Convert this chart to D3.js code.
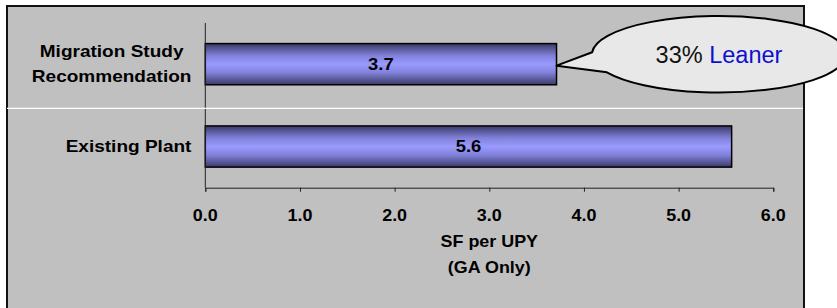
<!DOCTYPE html>
<html>
<head>
<meta charset="utf-8">
<script src="https://cdn.jsdelivr.net/npm/d3@7"></script>
<style>
  body { margin: 0; background: #ffffff; }
  text { font-family: 'Liberation Sans', Arial, sans-serif; }
</style>
</head>
<body>
<div id="chart"></div>
<script>
// Chart data
var categories = ['Migration Study\nRecommendation', 'Existing Plant']
var values = [3.71, 5.56]
var tickValues = [0, 1, 2, 3, 4, 5, 6]
var axisTitle = ['SF per UPY', '(GA Only)']
var calloutText = ['33%', 'Leaner']

// Layout
var width = 837
var height = 308
var plot = { left: 205.3, right: 773.3, top: 23, bottom: 187.7 }
var stretch = 1.12 // text in the original is drawn a little wide
var labelRight = 191.5

var svg = d3.select('#chart').append('svg')
  .attr('width', width)
  .attr('height', height)

// Gradient for the bars
var grad = svg.append('defs').append('linearGradient')
  .attr('id', 'barGrad')
  .attr('x1', 0).attr('y1', 0).attr('x2', 0).attr('y2', 1)
grad.selectAll('stop')
  .data([[0, '#3a3a68'], [0.3, '#8282dc'], [0.5, '#9a9aff'], [0.7, '#8282dc'], [1, '#3a3a68']])
  .enter().append('stop')
  .attr('offset', function (d) { return d[0] })
  .attr('stop-color', function (d) { return d[1] })

// Gray panel
svg.append('rect')
  .attr('x', 7)
  .attr('y', 6)
  .attr('width', 797)
  .attr('height', 330)
  .style('fill', '#c0c0c0')
  .style('stroke', '#111')
  .style('stroke-width', 2)

var x = d3.scaleLinear()
  .domain([0, 6])
  .range([plot.left, plot.right])

var y = d3.scaleBand()
  .domain(categories)
  .range([plot.top, plot.bottom])
  .paddingInner(0.5)
  .paddingOuter(0.25)

// Bars
svg.selectAll('.bar')
  .data(values)
  .enter().append('rect')
  .attr('class', 'bar')
  .attr('x', x(0))
  .attr('y', function (d, i) { return y(categories[i]) })
  .attr('width', function (d) { return x(d) - x(0) })
  .attr('height', y.bandwidth())
  .style('fill', 'url(#barGrad)')
  .style('stroke', '#000')
  .style('stroke-width', 1.5)

// Bar value labels
svg.selectAll('.barLabel')
  .data(values)
  .enter().append('text')
  .attr('class', 'barLabel')
  .attr('transform', function (d, i) {
    return 'translate(' + (x(0) + x(d)) / 2 + ',' + (y(categories[i]) + y.bandwidth() / 2 + 5.5) + ') scale(1.15,1)'
  })
  .attr('text-anchor', 'middle')
  .style('font-size', '16px')
  .style('font-weight', 'bold')
  .text(function (d) { return d3.format('.1f')(d) })

// X axis
var xAxis = svg.append('g')
  .attr('transform', 'translate(0,' + plot.bottom + ')')
  .call(d3.axisBottom(x).tickValues(tickValues).tickSize(4).tickFormat(''))
xAxis.select('.domain').attr('stroke', '#222')
xAxis.selectAll('.tick line').attr('stroke', '#222')

svg.selectAll('.tickLabel')
  .data(tickValues)
  .enter().append('text')
  .attr('class', 'tickLabel')
  .attr('transform', function (d) { return 'translate(' + x(d) + ',221) scale(' + stretch + ',1)' })
  .attr('text-anchor', 'middle')
  .style('font-size', '16px')
  .style('font-weight', 'bold')
  .text(function (d) { return d3.format('.1f')(d) })

// Axis title
svg.selectAll('.axisTitle')
  .data(axisTitle)
  .enter().append('text')
  .attr('class', 'axisTitle')
  .attr('transform', function (d, i) {
    return 'translate(' + (plot.left + plot.right) / 2 + ',' + (247 + i * 25.5) + ') scale(' + stretch + ',1)'
  })
  .attr('text-anchor', 'middle')
  .style('font-size', '16px')
  .style('font-weight', 'bold')
  .text(function (d) { return d })

// Y axis line
svg.append('line')
  .attr('x1', x(0)).attr('x2', x(0))
  .attr('y1', plot.top).attr('y2', plot.bottom)
  .style('stroke', '#222')

// Category labels: lines centred with each other, block right-aligned
categories.forEach(function (c) {
  var lines = c.split('\n')
  var mid = y(c) + y.bandwidth() / 2
  var g = svg.append('g')
  var texts = lines.map(function (line, j) {
    return g.append('text')
      .attr('text-anchor', 'middle')
      .style('font-size', '17px')
      .style('font-weight', 'bold')
      .text(line)
  })
  var maxW = d3.max(texts, function (t) { return t.node().getComputedTextLength() }) * stretch
  texts.forEach(function (t, j) {
    var ty = mid + 5 + (j - (lines.length - 1) / 2) * 24.7
    t.attr('transform', 'translate(' + (labelRight - maxW / 2) + ',' + ty + ') scale(' + stretch + ',1)')
  })
})

// White separator line across the panel
svg.append('line')
  .attr('x1', 7).attr('x2', 803)
  .attr('y1', 108.3).attr('y2', 108.3)
  .style('stroke', '#ffffff')
  .style('stroke-width', 1.2)

// Callout bubble pointing at the first bar
var cx = 719
var cy = 54.3
var rx = 127
var ry = 38.3
var a1 = 183 * Math.PI / 180
var a2 = 152 * Math.PI / 180
var tipX = x(values[0])
var tipY = y(categories[0]) + y.bandwidth() / 2 + 1.5
var p1 = [cx + rx * Math.cos(a1), cy + ry * Math.sin(a1)]
var p2 = [cx + rx * Math.cos(a2), cy + ry * Math.sin(a2)]

svg.append('path')
  .attr('d', 'M' + p1[0] + ',' + p1[1] +
    'L' + tipX + ',' + tipY +
    'L' + p2[0] + ',' + p2[1] +
    'A' + rx + ',' + ry + ' 0 1 0 ' + p1[0] + ',' + p1[1] + 'Z')
  .style('fill', '#e8e8e8')
  .style('stroke', '#000')
  .style('stroke-width', 2)
  .style('stroke-linejoin', 'round')

var callout = svg.append('text')
  .attr('x', cx)
  .attr('y', 63.3)
  .attr('text-anchor', 'middle')
  .style('font-size', '23.5px')
callout.append('tspan').style('fill', '#111').text(calloutText[0] + ' ')
callout.append('tspan').style('fill', '#0f0fd0').text(calloutText[1])
</script>
</body>
</html>
